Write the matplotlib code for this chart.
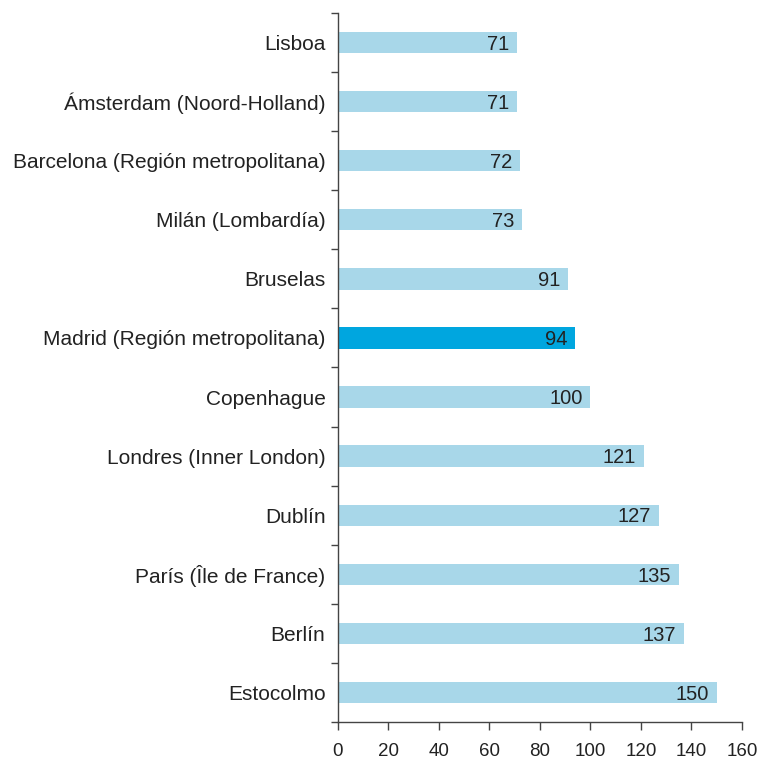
import matplotlib.pyplot as plt
import numpy as np

plt.rcParams["font.family"] = ["Liberation Sans", "DejaVu Sans"]

# Data, top to bottom
cities = [
    "Lisboa",
    "Ámsterdam (Noord-Holland)",
    "Barcelona (Región metropolitana)",
    "Milán (Lombardía)",
    "Bruselas",
    "Madrid (Región metropolitana)",
    "Copenhague",
    "Londres (Inner London)",
    "Dublín",
    "París (Île de France)",
    "Berlín",
    "Estocolmo",
]
values = [71, 71, 72, 73, 91, 94, 100, 121, 127, 135, 137, 150]
highlight = "Madrid (Región metropolitana)"

light = "#a8d7e9"
dark = "#00a6df"
colors = [dark if c == highlight else light for c in cities]

fig = plt.figure(figsize=(7.64, 7.60), dpi=100)
ax = fig.add_axes([0.4424, 0.05, 0.9712 - 0.4424, 0.9829 - 0.05])

y = np.arange(len(cities))
ax.barh(y, values, height=0.36, color=colors)

for yi, v in zip(y, values):
    ax.text(v - 3, yi + 0.03, str(v), ha="right", va="center", fontsize=14.5, color="#222222")

ax.set_ylim(len(cities) - 0.5, -0.5)
ax.set_xlim(0, 160)
ax.set_xticks(np.arange(0, 161, 20))

ax.set_yticks(y)
ax.set_yticklabels(cities)
ax.set_yticks(np.arange(-0.5, len(cities)), minor=True)
ax.tick_params(axis="y", which="major", length=0, pad=9, labelsize=15, labelcolor="#222222")
ax.tick_params(axis="y", which="minor", length=5, width=1, color="#444444", direction="out")
ax.tick_params(axis="x", length=6, width=1, color="#444444", pad=9, labelsize=13.5, labelcolor="#222222")

for s in ["top", "right"]:
    ax.spines[s].set_visible(False)
for s in ["left", "bottom"]:
    ax.spines[s].set_color("#444444")
    ax.spines[s].set_linewidth(1)

fig.savefig("out.png", dpi=100)
